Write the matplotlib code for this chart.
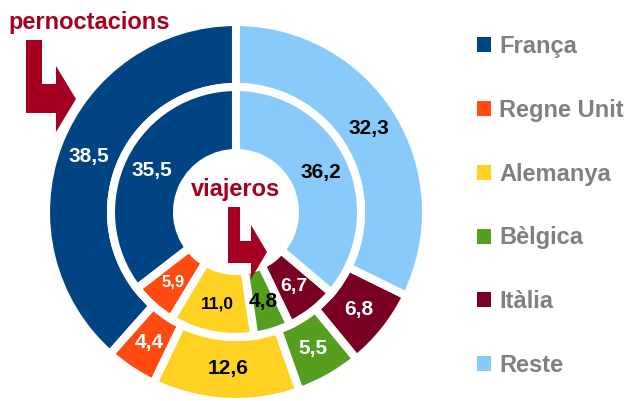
import matplotlib
matplotlib.use("Agg")
import matplotlib.pyplot as plt
from matplotlib.patches import Patch, Polygon
import numpy as np

plt.rcParams['font.family'] = ['Liberation Sans', 'DejaVu Sans']
plt.rcParams['font.weight'] = 'bold'

# data
countries = ['França', 'Regne Unit', 'Alemanya', 'Bèlgica', 'Itàlia', 'Reste']
pernoctacions = [38.5, 4.4, 12.6, 5.5, 6.8, 32.3]
viajeros = [35.5, 5.9, 11.0, 4.8, 6.7, 36.2]

colors = ['#004483', '#FF4A12', '#FED122', '#559E1F', '#7A0021', '#88CAFA']
outer_txt = ['white', 'white', 'black', 'white', 'white', 'black']
inner_txt = ['white', 'white', 'black', 'black', 'white', 'black']
outer_fs = [15, 15, 15, 15, 15, 15]
inner_fs = [15, 12, 12.5, 15, 14, 15]
dark_red = '#A50021'

W, H = 628, 401
fig = plt.figure(figsize=(W / 100, H / 100), dpi=100)
ax = fig.add_axes([0, 0, 1, 1])

cx, cy = 236, H - 212
edge = dict(edgecolor='white', linewidth=5.8)


def fmt(v):
    return f"{v:.1f}".replace('.', ',')


def ring(vals, radius, width, txt_cols, sizes, r_lab):
    wedges, _ = ax.pie(vals, radius=radius, center=(cx, cy), startangle=90,
                       counterclock=True, colors=colors, frame=True,
                       wedgeprops=dict(width=width, **edge))
    for w, v, c, s in zip(wedges, vals, txt_cols, sizes):
        a = np.deg2rad((w.theta1 + w.theta2) / 2)
        ax.text(cx + r_lab * np.cos(a), cy + r_lab * np.sin(a), fmt(v),
                ha='center', va='center', color=c, fontsize=s, fontweight='bold')


ring(pernoctacions, 190, 65, outer_txt, outer_fs, 157)
ring(viajeros, 125, 66, inner_txt, inner_fs, 94)


def bent_arrow(x0, x1, y0, ybar, ybot, xh, yh0, yh1, xt):
    pts = [(x0, y0), (x1, y0), (x1, ybar), (xh, ybar), (xh, yh0),
           (xt, (yh0 + yh1) / 2), (xh, yh1), (xh, ybot), (x0, ybot)]
    ax.add_patch(Polygon([(x, H - y) for x, y in pts], closed=True,
                         facecolor=dark_red, edgecolor='none', zorder=5))


bent_arrow(26, 42, 40, 84, 113, 56, 66, 132, 76)
bent_arrow(228, 240, 207, 241, 263, 251, 225, 279, 267)

ax.text(8, H - 29, 'pernoctacions', color=dark_red, fontsize=17,
        fontweight='bold', va='baseline', ha='left')
ax.text(191, H - 196, 'viajeros', color=dark_red, fontsize=17,
        fontweight='bold', va='baseline', ha='left')

handles = [Patch(facecolor=c, edgecolor='none') for c in colors]
ax.legend(handles, countries, loc='center left', bbox_to_anchor=(477, H - 206),
          bbox_transform=ax.transData, frameon=False, borderpad=0,
          borderaxespad=0, handlelength=0.6, handleheight=0.6,
          handletextpad=0.35, labelspacing=1.73, labelcolor='#808080',
          prop={'weight': 'bold', 'size': 17})

ax.set_xlim(0, W)
ax.set_ylim(0, H)
ax.set_aspect('equal')
ax.axis('off')

fig.savefig('out.png', dpi=100)
